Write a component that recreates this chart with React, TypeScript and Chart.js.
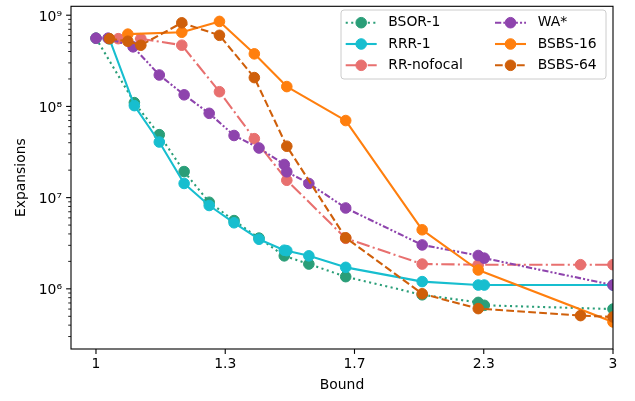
import React, { useEffect, useRef } from 'react';
import { Chart, registerables } from 'chart.js';

Chart.register(...registerables);

// ---- data ----
const seriesNames = ['BSOR-1', 'RRR-1', 'RR-nofocal', 'WA*', 'BSBS-16', 'BSBS-64'];

const bsorBounds = [1, 1.085, 1.144, 1.206, 1.272, 1.341, 1.414, 1.492, 1.572, 1.7, 2.0, 2.253, 2.282, 3];
const bsorExp = [5.6e8, 1.1e8, 4.9e7, 1.93e7, 8.9e6, 5.6e6, 3.6e6, 2.3e6, 1.87e6, 1.36e6, 8.6e5, 7.1e5, 6.6e5, 6.0e5];

const rrrBounds = [1.029, 1.085, 1.144, 1.206, 1.272, 1.341, 1.414, 1.492, 1.5, 1.572, 1.7, 2.0, 2.253, 2.282, 3];
const rrrExp = [5.5e8, 1.02e8, 4.07e7, 1.43e7, 8.2e6, 5.3e6, 3.5e6, 2.65e6, 2.62e6, 2.3e6, 1.72e6, 1.2e6, 1.1e6, 1.1e6, 1.1e6];

const rrBounds = [1.0485, 1.1, 1.2, 1.3, 1.4, 1.5, 1.7, 2.0, 2.253, 2.8, 3];
const rrExp = [5.53e8, 5.53e8, 4.69e8, 1.45e8, 4.43e7, 1.55e7, 3.58e6, 1.87e6, 1.84e6, 1.84e6, 1.84e6];

const waBounds = [1, 1.026, 1.082, 1.144, 1.206, 1.272, 1.341, 1.414, 1.492, 1.5, 1.572, 1.7, 2.0, 2.253, 2.282, 3];
const waExp = [5.6e8, 5.6e8, 4.5e8, 2.21e8, 1.34e8, 8.4e7, 4.8e7, 3.5e7, 2.31e7, 1.92e7, 1.43e7, 7.7e6, 3.03e6, 2.32e6, 2.17e6, 1.1e6];

const bsbs16Bounds = [1.07, 1.2, 1.3, 1.4, 1.5, 1.7, 2.0, 2.253, 3];
const bsbs16Exp = [6.2e8, 6.5e8, 8.55e8, 3.77e8, 1.65e8, 7.0e7, 4.44e6, 1.61e6, 4.34e5];

const bsbs64Bounds = [1.029, 1.07, 1.1, 1.2, 1.3, 1.4, 1.5, 1.7, 2.0, 2.253, 2.8, 3];
const bsbs64Exp = [5.53e8, 5.18e8, 4.69e8, 8.25e8, 6.02e8, 2.07e8, 3.66e7, 3.63e6, 8.83e5, 6.07e5, 5.09e5, 4.92e5];

const xTickValues = [1, Math.pow(3, 0.25), Math.pow(3, 0.5), Math.pow(3, 0.75), 3];
const yMajorTicks = [1e6, 1e7, 1e8, 1e9];
const yTickLabels = ['10\u2076', '10\u2077', '10\u2078', '10\u2079'];

// ---- styles ----
const LW = 2.08;
const styles = [
  { color: '#2a9e78', dash: [LW, 3.44] },
  { color: '#17becf', dash: [] },
  { color: '#e8706f', dash: [13.3, 3.3, LW, 3.3] },
  { color: '#8e44ad', dash: [6.25, LW, LW, LW, LW, LW] },
  { color: '#ff7f0e', dash: [] },
  { color: '#cf5f0a', dash: [7.7, 3.3] },
];
const boundsList = [bsorBounds, rrrBounds, rrBounds, waBounds, bsbs16Bounds, bsbs64Bounds];
const expList = [bsorExp, rrrExp, rrExp, waExp, bsbs16Exp, bsbs64Exp];

const FAMILY = '"DejaVu Sans", "Liberation Sans", sans-serif';
const FSIZE = 13.9;

const X_MIN = 0.9483;
const X_MAX = 3;
const Y_MIN = 2.19e5;
const Y_MAX = 1.252e9;

function isMajor(v: number) {
  const l = Math.log10(v);
  return Math.abs(l - Math.round(l)) < 1e-9;
}

const framePlugin = {
  id: 'frame',
  beforeDatasetsDraw(chart: any) {
    const { ctx, chartArea: a } = chart;
    ctx.save();
    ctx.beginPath();
    ctx.rect(a.left, a.top, a.right - a.left, a.bottom - a.top);
    ctx.clip();
  },
  afterDatasetsDraw(chart: any) {
    const { ctx, chartArea: a, scales } = chart;
    ctx.restore();
    ctx.save();
    ctx.strokeStyle = '#000';
    ctx.setLineDash([]);
    const ys = scales.y;
    ys.ticks.forEach((t: any) => {
      const p = ys.getPixelForValue(t.value);
      const major = isMajor(t.value);
      const len = major ? 4.9 : 2.8;
      ctx.lineWidth = major ? 1.1 : 0.85;
      ctx.beginPath();
      ctx.moveTo(a.left - len, p);
      ctx.lineTo(a.left, p);
      ctx.stroke();
    });
    const xs = scales.x;
    xs.ticks.forEach((t: any) => {
      const p = xs.getPixelForValue(t.value);
      ctx.lineWidth = 1.1;
      ctx.beginPath();
      ctx.moveTo(p, a.bottom);
      ctx.lineTo(p, a.bottom + 4.9);
      ctx.stroke();
    });
    ctx.lineWidth = 1.1;
    ctx.strokeRect(a.left, a.top, a.right - a.left, a.bottom - a.top);
    ctx.restore();
  },
  afterDraw(chart: any) {
    const { ctx } = chart;
    ctx.save();
    const x0 = 341, y0 = 10, x1 = 606, y1 = 79, r = 3;
    ctx.beginPath();
    ctx.moveTo(x0 + r, y0);
    ctx.lineTo(x1 - r, y0);
    ctx.arcTo(x1, y0, x1, y0 + r, r);
    ctx.lineTo(x1, y1 - r);
    ctx.arcTo(x1, y1, x1 - r, y1, r);
    ctx.lineTo(x0 + r, y1);
    ctx.arcTo(x0, y1, x0, y1 - r, r);
    ctx.lineTo(x0, y0 + r);
    ctx.arcTo(x0, y0, x0 + r, y0, r);
    ctx.closePath();
    ctx.fillStyle = 'rgba(255,255,255,0.8)';
    ctx.fill();
    ctx.strokeStyle = '#cccccc';
    ctx.lineWidth = 1;
    ctx.stroke();

    const rows = [22.7, 44, 65.3];
    const cols = [
      { hx: 345.7, tx: 388.3 },
      { hx: 495, tx: 537.7 },
    ];
    seriesNames.forEach((name, i) => {
      const c = cols[Math.floor(i / 3)];
      const yy = rows[i % 3];
      const st = styles[i];
      ctx.strokeStyle = st.color;
      ctx.lineWidth = LW;
      ctx.lineCap = 'butt';
      ctx.setLineDash(st.dash);
      ctx.lineDashOffset = 0;
      ctx.beginPath();
      ctx.moveTo(c.hx, yy);
      ctx.lineTo(c.hx + 31, yy);
      ctx.stroke();
      ctx.setLineDash([]);
      ctx.fillStyle = st.color;
      ctx.lineWidth = 1;
      ctx.beginPath();
      ctx.arc(c.hx + 15.5, yy, 5.3, 0, Math.PI * 2);
      ctx.fill();
      ctx.stroke();
      ctx.fillStyle = '#000';
      ctx.font = `${FSIZE}px ${FAMILY}`;
      ctx.textAlign = 'left';
      ctx.textBaseline = 'middle';
      ctx.fillText(name, c.tx, yy);
    });
    ctx.restore();
  },
};

export default function App() {
  const canvasRef = useRef<HTMLCanvasElement | null>(null);

  useEffect(() => {
    document.body.style.margin = '0';
    const canvas = canvasRef.current;
    if (!canvas) return;

    const datasets = seriesNames.map((name, i) => ({
      label: name,
      data: boundsList[i].map((b, j) => ({ x: b, y: expList[i][j] })),
      borderColor: styles[i].color,
      backgroundColor: styles[i].color,
      borderWidth: LW,
      borderDash: styles[i].dash,
      borderCapStyle: 'butt' as const,
      borderJoinStyle: 'round' as const,
      pointRadius: 5.3,
      pointHoverRadius: 5.3,
      pointBorderWidth: 1,
      pointBackgroundColor: styles[i].color,
      pointBorderColor: styles[i].color,
      tension: 0,
      fill: false,
      clip: 0,
      order: seriesNames.length - i,
    }));

    const chart = new Chart(canvas, {
      type: 'line',
      data: { datasets },
      options: {
        responsive: false,
        animation: false,
        devicePixelRatio: 1,
        events: [],
        layout: { padding: { left: 0, top: 3, right: 22, bottom: 0 } },
        plugins: {
          legend: { display: false },
          tooltip: { enabled: false },
        },
        scales: {
          x: {
            type: 'logarithmic',
            min: X_MIN,
            max: X_MAX,
            bounds: 'data',
            grid: { display: false, drawTicks: false },
            border: { display: false },
            afterBuildTicks: (s: any) => {
              s.ticks = xTickValues.map((v) => ({ value: v }));
            },
            afterFit: (s: any) => {
              s.height = 52;
              s.paddingLeft = 0;
              s.paddingRight = 0;
            },
            ticks: {
              autoSkip: false,
              maxRotation: 0,
              minRotation: 0,
              padding: 7.5,
              color: '#000',
              font: { family: FAMILY, size: FSIZE },
              callback: (v: any) => {
                const n = Number(v);
                return Math.abs(n - Math.round(n)) < 1e-9 ? String(Math.round(n)) : n.toFixed(1);
              },
            },
            title: {
              display: true,
              text: 'Bound',
              color: '#000',
              font: { family: FAMILY, size: FSIZE },
              padding: { top: 0, bottom: 7 },
            },
          },
          y: {
            type: 'logarithmic',
            min: Y_MIN,
            max: Y_MAX,
            bounds: 'data',
            grid: { display: false, drawTicks: false },
            border: { display: false },
            afterBuildTicks: (s: any) => {
              const t: { value: number }[] = [];
              for (let e = 5; e <= 9; e++) {
                for (let m = 1; m <= 9; m++) {
                  const v = m * Math.pow(10, e);
                  if (v >= Y_MIN && v <= Y_MAX) t.push({ value: v });
                }
              }
              s.ticks = t;
            },
            afterFit: (s: any) => {
              s.width = 71;
              s.paddingTop = 0;
              s.paddingBottom = 0;
            },
            ticks: {
              autoSkip: false,
              padding: 9,
              labelOffset: 2,
              color: '#000',
              font: { family: FAMILY, size: FSIZE },
              callback: (v: any) => {
                const n = Number(v);
                const idx = yMajorTicks.findIndex((m) => Math.abs(m - n) / m < 1e-6);
                return idx >= 0 ? yTickLabels[idx] : '';
              },
            },
            title: {
              display: true,
              text: 'Expansions',
              color: '#000',
              font: { family: FAMILY, size: FSIZE },
              padding: { top: 13.3, bottom: 0 },
            },
          },
        },
      } as any,
      plugins: [framePlugin],
    });

    return () => {
      chart.destroy();
    };
  }, []);

  return (
    <div style={{ width: 635, height: 401 }}>
      <canvas ref={canvasRef} width={635} height={401} style={{ display: 'block' }} />
    </div>
  );
}
